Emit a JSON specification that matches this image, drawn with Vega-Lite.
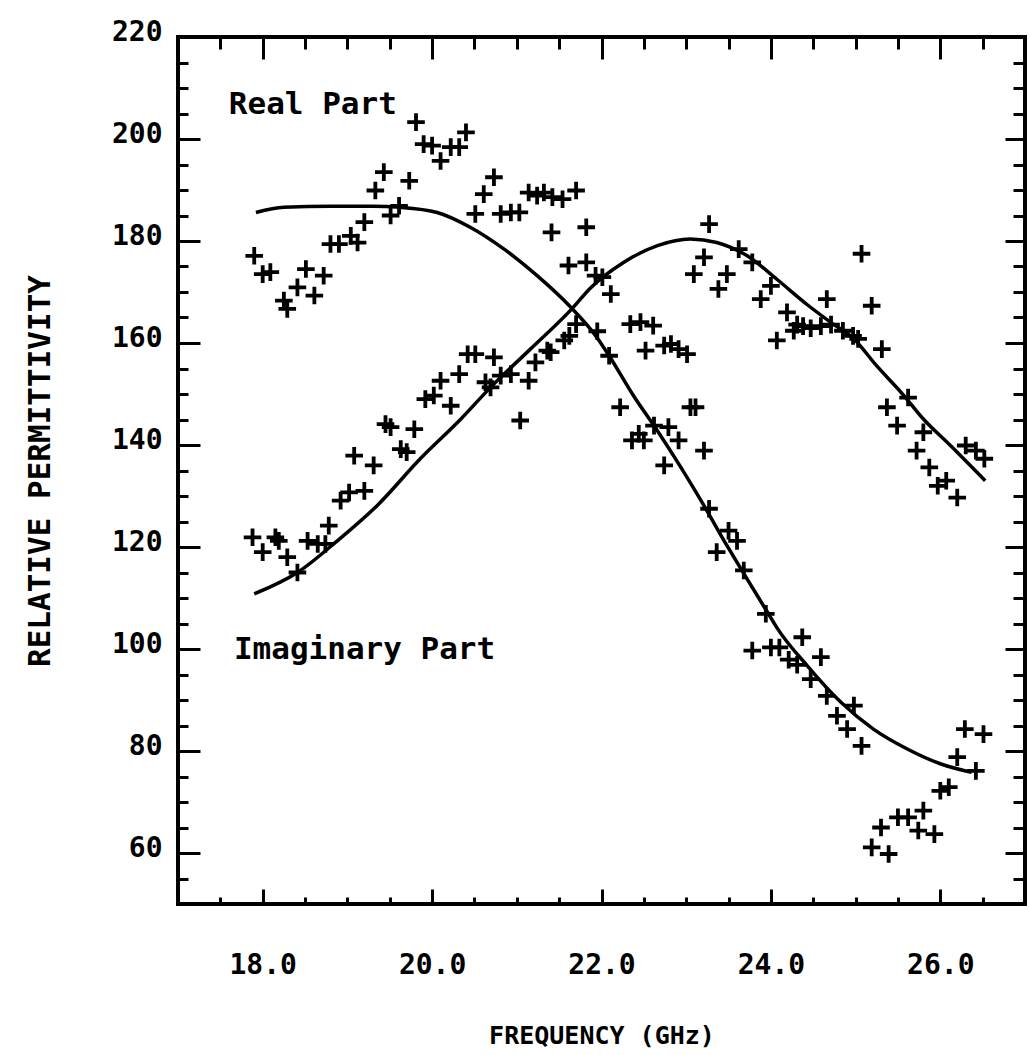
{
  "$schema": "https://vega.github.io/schema/vega-lite/v6.json",
  "width": 847,
  "height": 867,
  "autosize": {"type": "none"},
  "padding": {"left": 178, "top": 37, "right": 5, "bottom": 151},
  "background": "white",
  "config": {
    "view": {"stroke": "black", "strokeWidth": 4},
    "axis": {
      "domain": false,
      "grid": false,
      "tickColor": "black",
      "tickWidth": 3,
      "labelColor": "black",
      "titleColor": "black",
      "labelFont": "DejaVu Sans Mono",
      "titleFont": "DejaVu Sans Mono",
      "labelFontWeight": "bold",
      "titleFontWeight": "bold"
    }
  },
  "datasets": {
    "real_pts": [
      {"f": 17.90, "eps": 177.1}, {"f": 18.00, "eps": 173.5}, {"f": 18.09, "eps": 173.9}, {"f": 18.25, "eps": 168.3},
      {"f": 18.29, "eps": 166.7}, {"f": 18.41, "eps": 170.9}, {"f": 18.51, "eps": 174.5}, {"f": 18.61, "eps": 169.3},
      {"f": 18.72, "eps": 173.2}, {"f": 18.80, "eps": 179.4}, {"f": 18.90, "eps": 179.4}, {"f": 19.04, "eps": 181.0},
      {"f": 19.12, "eps": 179.7}, {"f": 19.20, "eps": 183.7}, {"f": 19.33, "eps": 189.9}, {"f": 19.43, "eps": 193.5},
      {"f": 19.51, "eps": 185.0}, {"f": 19.61, "eps": 186.9}, {"f": 19.73, "eps": 191.8}, {"f": 19.81, "eps": 203.3},
      {"f": 19.90, "eps": 199.0}, {"f": 20.00, "eps": 198.7}, {"f": 20.10, "eps": 195.7}, {"f": 20.22, "eps": 198.4},
      {"f": 20.32, "eps": 198.4}, {"f": 20.40, "eps": 201.3}, {"f": 20.51, "eps": 185.3}, {"f": 20.61, "eps": 189.2},
      {"f": 20.73, "eps": 192.5}, {"f": 20.81, "eps": 185.3}, {"f": 20.93, "eps": 185.6}, {"f": 21.03, "eps": 185.6},
      {"f": 21.14, "eps": 189.5}, {"f": 21.24, "eps": 188.9}, {"f": 21.32, "eps": 189.5}, {"f": 21.42, "eps": 188.6},
      {"f": 21.54, "eps": 188.2}, {"f": 21.70, "eps": 189.9}, {"f": 21.41, "eps": 181.7}, {"f": 21.82, "eps": 182.7},
      {"f": 21.61, "eps": 175.2}, {"f": 21.82, "eps": 175.8}, {"f": 21.93, "eps": 173.2}, {"f": 21.95, "eps": 162.3},
      {"f": 22.09, "eps": 157.5}, {"f": 22.34, "eps": 163.7}, {"f": 22.46, "eps": 164.1}, {"f": 22.61, "eps": 163.4},
      {"f": 22.52, "eps": 158.5}, {"f": 22.74, "eps": 159.5}, {"f": 22.82, "eps": 159.8}, {"f": 22.91, "eps": 158.8},
      {"f": 23.01, "eps": 157.8}, {"f": 22.22, "eps": 147.4}, {"f": 23.05, "eps": 147.4}, {"f": 23.11, "eps": 147.4},
      {"f": 22.44, "eps": 142.2}, {"f": 22.36, "eps": 140.9}, {"f": 22.50, "eps": 140.9}, {"f": 22.62, "eps": 143.8},
      {"f": 22.79, "eps": 143.5}, {"f": 22.91, "eps": 140.9}, {"f": 23.21, "eps": 138.9}, {"f": 22.74, "eps": 136.0},
      {"f": 23.27, "eps": 127.5}, {"f": 23.50, "eps": 123.2}, {"f": 23.60, "eps": 121.2}, {"f": 23.36, "eps": 119.0},
      {"f": 23.68, "eps": 115.4}, {"f": 23.94, "eps": 106.9}, {"f": 23.78, "eps": 99.7}, {"f": 24.00, "eps": 100.3},
      {"f": 24.10, "eps": 100.3}, {"f": 24.21, "eps": 97.9}, {"f": 24.31, "eps": 96.9}, {"f": 24.37, "eps": 102.3},
      {"f": 24.59, "eps": 98.4}, {"f": 24.47, "eps": 94.1}, {"f": 24.66, "eps": 90.8}, {"f": 24.98, "eps": 88.9},
      {"f": 24.78, "eps": 86.9}, {"f": 24.90, "eps": 84.3}, {"f": 25.07, "eps": 81.0}, {"f": 26.29, "eps": 84.3},
      {"f": 26.51, "eps": 83.3}, {"f": 26.20, "eps": 78.8}, {"f": 26.42, "eps": 76.1}, {"f": 26.00, "eps": 72.2},
      {"f": 26.10, "eps": 72.9}, {"f": 25.80, "eps": 68.3}, {"f": 25.50, "eps": 67.0}, {"f": 25.62, "eps": 67.0},
      {"f": 25.30, "eps": 65.0}, {"f": 25.74, "eps": 64.4}, {"f": 25.93, "eps": 63.7}, {"f": 25.19, "eps": 61.1},
      {"f": 25.39, "eps": 59.8}
    ],
    "imag_pts": [
      {"f": 17.88, "eps": 121.9}, {"f": 18.00, "eps": 119.0}, {"f": 18.15, "eps": 121.9}, {"f": 18.19, "eps": 121.2},
      {"f": 18.29, "eps": 118.0}, {"f": 18.41, "eps": 115.0}, {"f": 18.53, "eps": 121.2}, {"f": 18.65, "eps": 120.6},
      {"f": 18.74, "eps": 120.6}, {"f": 18.78, "eps": 124.2}, {"f": 18.92, "eps": 129.1}, {"f": 19.02, "eps": 130.7},
      {"f": 19.20, "eps": 131.0}, {"f": 19.08, "eps": 137.9}, {"f": 19.31, "eps": 136.0}, {"f": 19.45, "eps": 144.1},
      {"f": 19.51, "eps": 143.5}, {"f": 19.79, "eps": 143.1}, {"f": 19.63, "eps": 139.2}, {"f": 19.70, "eps": 138.6},
      {"f": 19.92, "eps": 149.0}, {"f": 20.02, "eps": 149.7}, {"f": 20.10, "eps": 152.6}, {"f": 20.22, "eps": 147.7},
      {"f": 20.32, "eps": 153.9}, {"f": 20.42, "eps": 157.8}, {"f": 20.51, "eps": 157.8}, {"f": 20.73, "eps": 157.2},
      {"f": 20.63, "eps": 152.3}, {"f": 20.69, "eps": 151.3}, {"f": 20.81, "eps": 153.6}, {"f": 20.93, "eps": 153.9},
      {"f": 21.04, "eps": 144.8}, {"f": 21.14, "eps": 152.6}, {"f": 21.22, "eps": 156.2}, {"f": 21.36, "eps": 158.5},
      {"f": 21.40, "eps": 158.2}, {"f": 21.56, "eps": 160.5}, {"f": 21.62, "eps": 161.4}, {"f": 21.70, "eps": 163.7},
      {"f": 22.01, "eps": 172.9}, {"f": 22.11, "eps": 169.6}, {"f": 23.27, "eps": 183.3}, {"f": 23.21, "eps": 176.8},
      {"f": 23.09, "eps": 173.5}, {"f": 23.48, "eps": 173.5}, {"f": 23.38, "eps": 170.6}, {"f": 23.62, "eps": 178.4},
      {"f": 23.78, "eps": 175.8}, {"f": 24.00, "eps": 171.2}, {"f": 23.88, "eps": 168.6}, {"f": 24.19, "eps": 166.0},
      {"f": 24.66, "eps": 168.6}, {"f": 25.07, "eps": 177.5}, {"f": 25.19, "eps": 167.3}, {"f": 24.31, "eps": 163.6},
      {"f": 24.38, "eps": 163.3}, {"f": 24.47, "eps": 162.9}, {"f": 24.59, "eps": 163.3}, {"f": 24.71, "eps": 163.6},
      {"f": 24.27, "eps": 162.4}, {"f": 24.07, "eps": 160.5}, {"f": 24.85, "eps": 162.4}, {"f": 24.97, "eps": 161.4},
      {"f": 25.03, "eps": 160.8}, {"f": 25.31, "eps": 158.8}, {"f": 25.62, "eps": 149.3}, {"f": 25.37, "eps": 147.4},
      {"f": 25.49, "eps": 143.8}, {"f": 25.80, "eps": 142.5}, {"f": 25.72, "eps": 138.9}, {"f": 25.87, "eps": 135.6},
      {"f": 25.97, "eps": 132.0}, {"f": 26.07, "eps": 133.0}, {"f": 26.20, "eps": 129.7}, {"f": 26.30, "eps": 139.9},
      {"f": 26.42, "eps": 138.9}, {"f": 26.52, "eps": 137.3}
    ],
    "real_fit": [
      {"f": 17.92, "eps": 185.6}, {"f": 18.25, "eps": 186.6}, {"f": 18.8, "eps": 186.8}, {"f": 19.3, "eps": 186.8},
      {"f": 19.63, "eps": 186.6}, {"f": 20.06, "eps": 185.6}, {"f": 20.45, "eps": 182.7}, {"f": 20.85, "eps": 178.4},
      {"f": 21.24, "eps": 173.2}, {"f": 21.62, "eps": 167.3}, {"f": 21.95, "eps": 161.0}, {"f": 22.09, "eps": 157.5},
      {"f": 22.38, "eps": 149.6}, {"f": 22.66, "eps": 142.8}, {"f": 22.93, "eps": 135.8}, {"f": 23.21, "eps": 128.1},
      {"f": 23.48, "eps": 120.3}, {"f": 23.72, "eps": 113.7}, {"f": 23.96, "eps": 107.2}, {"f": 24.07, "eps": 104.2},
      {"f": 24.43, "eps": 96.7}, {"f": 24.83, "eps": 89.5}, {"f": 25.21, "eps": 84.3}, {"f": 25.61, "eps": 80.4},
      {"f": 26.00, "eps": 77.5}, {"f": 26.37, "eps": 75.8}
    ],
    "imag_fit": [
      {"f": 17.90, "eps": 110.8}, {"f": 18.41, "eps": 115.0}, {"f": 18.88, "eps": 121.2}, {"f": 19.35, "eps": 128.1},
      {"f": 19.86, "eps": 137.3}, {"f": 20.34, "eps": 145.1}, {"f": 20.69, "eps": 151.3}, {"f": 21.16, "eps": 158.8},
      {"f": 21.65, "eps": 166.7}, {"f": 21.87, "eps": 170.8}, {"f": 22.26, "eps": 175.8}, {"f": 22.66, "eps": 179.1},
      {"f": 23.05, "eps": 180.4}, {"f": 23.36, "eps": 179.7}, {"f": 23.72, "eps": 177.1}, {"f": 24.07, "eps": 172.5},
      {"f": 24.43, "eps": 167.5}, {"f": 24.71, "eps": 164.0}, {"f": 24.98, "eps": 160.8}, {"f": 25.25, "eps": 155.5},
      {"f": 25.57, "eps": 149.7}, {"f": 25.80, "eps": 145.1}, {"f": 26.12, "eps": 139.9}, {"f": 26.53, "eps": 133.0}
    ],
    "notes": [
      {"f": 17.60, "eps": 204.9, "label": "Real Part"},
      {"f": 17.66, "eps": 98.0, "label": "Imaginary Part"}
    ]
  },
  "layer": [
    {
      "data": {"name": "real_pts"},
      "mark": {"type": "point", "shape": "M-1,0L1,0M0,-1L0,1", "size": 310, "filled": false, "stroke": "black", "strokeWidth": 3.8, "opacity": 1},
      "encoding": {
        "x": {"field": "f", "type": "quantitative", "scale": {"domain": [17, 27], "nice": false, "zero": false},
          "axis": {"orient": "bottom", "values": [18, 20, 22, 24, 26], "format": ".1f", "ticks": false, "labelPadding": 47, "labelFontSize": 28, "title": "FREQUENCY (GHz)", "titleFontSize": 25, "titlePadding": 44}},
        "y": {"field": "eps", "type": "quantitative", "scale": {"domain": [50, 220], "nice": false, "zero": false},
          "axis": {"orient": "left", "values": [60, 80, 100, 120, 140, 160, 180, 200, 220], "format": "d", "ticks": false, "labelPadding": 16, "labelOffset": -5, "labelFontSize": 28, "title": "RELATIVE PERMITTIVITY", "titleFontSize": 31, "titlePadding": 55}}
      }
    },
    {
      "data": {"name": "imag_pts"},
      "mark": {"type": "point", "shape": "M-1,0L1,0M0,-1L0,1", "size": 310, "filled": false, "stroke": "black", "strokeWidth": 3.8, "opacity": 1},
      "encoding": {
        "x": {"field": "f", "type": "quantitative", "scale": {"domain": [17, 27], "nice": false, "zero": false},
          "axis": {"orient": "top", "values": [18, 20, 22, 24, 26], "labels": false, "title": null, "offset": -22, "tickSize": 22}},
        "y": {"field": "eps", "type": "quantitative", "scale": {"domain": [50, 220], "nice": false, "zero": false},
          "axis": {"orient": "left", "values": [60, 80, 100, 120, 140, 160, 180, 200], "labels": false, "title": null, "offset": -22, "tickSize": 22}}
      }
    },
    {
      "data": {"name": "real_fit"},
      "mark": {"type": "line", "color": "black", "strokeWidth": 3.5, "interpolate": "monotone"},
      "encoding": {
        "x": {"field": "f", "type": "quantitative", "scale": {"domain": [17, 27], "nice": false, "zero": false},
          "axis": {"orient": "top", "values": [17.5, 18.5, 19, 19.5, 20.5, 21, 21.5, 22.5, 23, 23.5, 24.5, 25, 25.5, 26.5], "labels": false, "title": null, "offset": -12, "tickSize": 12}},
        "y": {"field": "eps", "type": "quantitative", "scale": {"domain": [50, 220], "nice": false, "zero": false},
          "axis": {"orient": "left", "values": [55, 65, 70, 75, 85, 90, 95, 105, 110, 115, 125, 130, 135, 145, 150, 155, 165, 170, 175, 185, 190, 195, 205, 210, 215], "labels": false, "title": null, "offset": -10, "tickSize": 10}}
      }
    },
    {
      "data": {"name": "imag_fit"},
      "mark": {"type": "line", "color": "black", "strokeWidth": 3.5, "interpolate": "monotone"},
      "encoding": {
        "x": {"field": "f", "type": "quantitative", "scale": {"domain": [17, 27], "nice": false, "zero": false},
          "axis": {"orient": "bottom", "values": [18, 20, 22, 24, 26], "labels": false, "title": null, "offset": -15, "tickSize": 15}},
        "y": {"field": "eps", "type": "quantitative", "scale": {"domain": [50, 220], "nice": false, "zero": false},
          "axis": {"orient": "right", "values": [60, 80, 100, 120, 140, 160, 180, 200], "labels": false, "title": null, "offset": -20, "tickSize": 20}}
      }
    },
    {
      "data": {"name": "notes"},
      "mark": {"type": "text", "align": "left", "baseline": "alphabetic", "font": "DejaVu Sans Mono", "fontWeight": "bold", "fontSize": 31, "color": "black"},
      "encoding": {
        "x": {"field": "f", "type": "quantitative", "scale": {"domain": [17, 27], "nice": false, "zero": false},
          "axis": {"orient": "bottom", "values": [17.5, 18.5, 19, 19.5, 20.5, 21, 21.5, 22.5, 23, 23.5, 24.5, 25, 25.5, 26.5], "labels": false, "title": null, "offset": -7, "tickSize": 7}},
        "y": {"field": "eps", "type": "quantitative", "scale": {"domain": [50, 220], "nice": false, "zero": false},
          "axis": {"orient": "right", "values": [55, 65, 70, 75, 85, 90, 95, 105, 110, 115, 125, 130, 135, 145, 150, 155, 165, 170, 175, 185, 190, 195, 205, 210, 215], "labels": false, "title": null, "offset": -12, "tickSize": 12}},
        "text": {"field": "label", "type": "nominal"}
      }
    }
  ],
  "resolve": {"axis": {"x": "independent", "y": "independent"}}
}
